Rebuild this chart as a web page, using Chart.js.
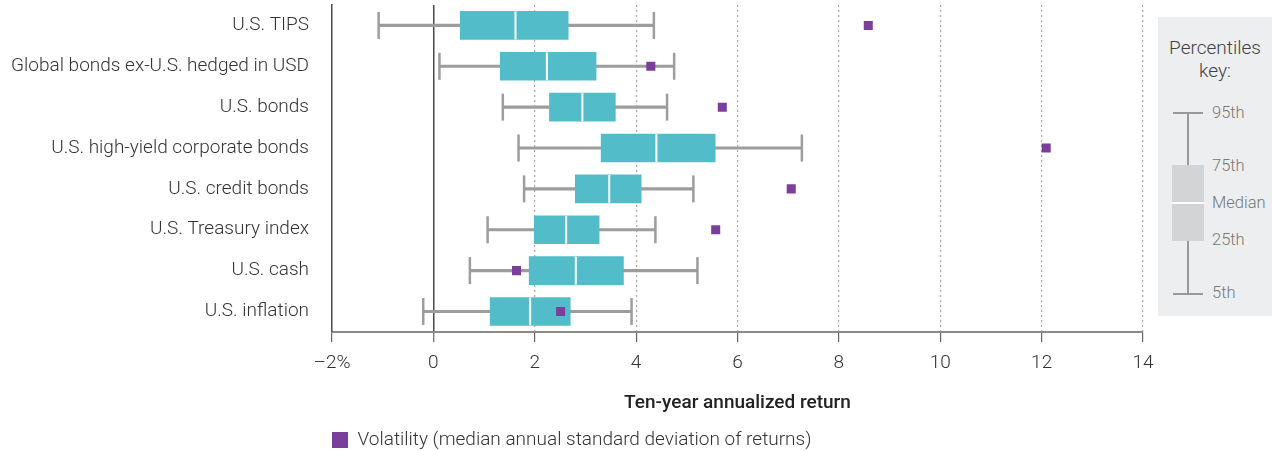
<!DOCTYPE html>
<html>
<head>
<script src="https://cdn.jsdelivr.net/npm/chart.js@4.4.1/dist/chart.umd.min.js"></script>
<style>
  body { margin: 0; background: #fff; font-family: Roboto, sans-serif; }
  .wrap { position: relative; width: 1272px; height: 451px; }
  .key { position: absolute; left: 1158px; top: 17px; width: 114px; height: 299px; background: #edeef0; }
  .key .title { position: absolute; left: 0; top: 19px; width: 114px; text-align: center; font-size: 19px; font-weight: 300; line-height: 23px; color: #444; }
  .key .whisker { position: absolute; left: 29px; top: 96px; width: 2px; height: 181px; background: #999; }
  .key .cap { position: absolute; left: 15px; width: 30px; height: 2px; background: #999; }
  .key .box { position: absolute; left: 14px; top: 148px; width: 32px; height: 76px; background: #d3d4d6; }
  .key .med { position: absolute; left: 14px; top: 185px; width: 32px; height: 2px; background: #fff; }
  .key .lbl { position: absolute; left: 54px; font-size: 16.5px; font-weight: 300; color: #777; line-height: 18px; }
</style>
</head>
<body>
<div class="wrap">
  <canvas id="myChart" width="1272" height="451"></canvas>
  <div class="key">
    <div class="title">Percentiles<br>key:</div>
    <div class="whisker"></div>
    <div class="cap" style="top:95px"></div>
    <div class="cap" style="top:276px"></div>
    <div class="box"></div>
    <div class="med"></div>
    <div class="lbl" style="top:87px">95th</div>
    <div class="lbl" style="top:140px">75th</div>
    <div class="lbl" style="top:177px">Median</div>
    <div class="lbl" style="top:214px">25th</div>
    <div class="lbl" style="top:267px">5th</div>
  </div>
</div>

<script>
  const categories = [
    "U.S. TIPS",
    "Global bonds ex-U.S. hedged in USD",
    "U.S. bonds",
    "U.S. high-yield corporate bonds",
    "U.S. credit bonds",
    "U.S. Treasury index",
    "U.S. cash",
    "U.S. inflation"
  ];
  const p5 = [-1.08, 0.12, 1.37, 1.68, 1.79, 1.07, 0.72, -0.20];
  const p25 = [0.53, 1.32, 2.29, 3.31, 2.80, 1.99, 1.89, 1.12];
  const p50 = [1.62, 2.24, 2.94, 4.40, 3.47, 2.62, 2.81, 1.91];
  const p75 = [2.66, 3.21, 3.59, 5.56, 4.10, 3.27, 3.75, 2.70];
  const p95 = [4.35, 4.75, 4.61, 7.27, 5.13, 4.38, 5.21, 3.91];
  const volatility = [8.58, 4.29, 5.70, 12.09, 7.06, 5.57, 1.64, 2.51];
  const xTicks = [-2, 0, 2, 4, 6, 8, 10, 12, 14];

  const teal = "#52bdc9";
  const purple = "#7b3f9b";
  const whiskerGray = "#9d9d9f";
  const font = "Roboto, 'Open Sans', sans-serif";

  const volatilityDataset = {
    type: "line",
    label: "Volatility (median annual standard deviation of returns)",
    data: volatility,
    showLine: false,
    pointStyle: "rect",
    pointRadius: 6.4,
    pointHoverRadius: 6.4,
    pointBorderWidth: 0,
    borderWidth: 0,
    backgroundColor: purple,
    pointBackgroundColor: purple,
    borderColor: purple
  };

  const medianDataset = {
    type: "line",
    label: "Median",
    data: p50,
    showLine: false,
    pointStyle: "line",
    pointRotation: 90,
    pointRadius: 14,
    pointHoverRadius: 14,
    pointBorderWidth: 2,
    pointBorderColor: "#ffffff"
  };

  const boxDataset = {
    type: "bar",
    label: "25th-75th",
    data: p25.map((v, i) => [v, p75[i]]),
    backgroundColor: teal,
    barThickness: 28,
    grouped: false
  };

  // whisker end caps, one dataset for each end
  const capStyle = {
    type: "line",
    showLine: false,
    pointStyle: "line",
    pointRotation: 90,
    pointRadius: 13.5,
    pointHoverRadius: 13.5,
    pointBorderWidth: 2.5,
    pointBorderColor: whiskerGray
  };
  const lowCap = Object.assign({}, capStyle, { data: p5, label: "5th" });
  const highCap = Object.assign({}, capStyle, { data: p95, label: "95th" });

  const whiskerDataset = {
    type: "bar",
    label: "5th-95th",
    data: p5.map((v, i) => [v, p95[i]]),
    backgroundColor: whiskerGray,
    barThickness: 2.5,
    grouped: false
  };

  new Chart("myChart", {
    type: "bar",
    data: {
      labels: categories,
      datasets: [volatilityDataset, medianDataset, boxDataset, lowCap, highCap, whiskerDataset]
    },
    options: {
      indexAxis: "y",
      responsive: false,
      animation: false,
      events: [],
      layout: { autoPadding: false, padding: { top: 5, right: 129, left: 0, bottom: 0 } },
      plugins: {
        tooltip: { enabled: false },
        legend: {
          position: "bottom",
          align: "start",
          fullSize: false,
          maxHeight: 20.5,
          labels: {
            filter: item => item.datasetIndex === 0,
            boxWidth: 16,
            boxHeight: 16,
            padding: 0,
            color: "#333",
            font: { family: font, size: 19, weight: 300 }
          }
        }
      },
      scales: {
        x: {
          type: "linear",
          min: -2,
          max: 14,
          afterBuildTicks: scale => { scale.ticks = xTicks.map(v => ({ value: v })); },
          ticks: {
            padding: 10,
            color: "#333",
            font: { family: font, size: 19, weight: 300 },
            callback: v => v === -2 ? "\u20132%" : String(v)
          },
          grid: {
            drawTicks: true,
            tickLength: 10,
            tickColor: "#666",
            tickWidth: 1.2,
            tickBorderDash: [],
            lineWidth: ctx => ctx.tick && ctx.tick.value === 0 ? 1.5 : 1.2,
            color: ctx => {
              if (!ctx.tick) return "#aaa";
              if (ctx.tick.value === 0) return "#4a4a4a";
              if (ctx.tick.value === -2) return "rgba(0,0,0,0)";
              return "#a8a8a8";
            }
          },
          border: {
            display: true,
            color: "#8a8a8a",
            width: 2,
            dash: ctx => ctx.tick && (ctx.tick.value === 0 || ctx.tick.value === -2) ? [] : [2, 3]
          },
          title: {
            display: true,
            text: "Ten-year annualized return",
            color: "#222",
            font: { family: font, size: 19, weight: 500 },
            padding: { top: 7, bottom: 16 }
          }
        },
        y: {
          type: "category",
          afterFit: scale => {
            scale.width = 332;
            // the label padding should not push the plot area down
            scale.paddingTop = 0;
            scale.paddingBottom = 0;
          },
          grid: { display: false, drawTicks: false },
          border: { display: true, color: "#4a4a4a", width: 1.5 },
          ticks: {
            padding: 23,
            color: "#333",
            font: { family: font, size: 19, weight: 300 }
          }
        }
      }
    }
  });
</script>
</body>
</html>
